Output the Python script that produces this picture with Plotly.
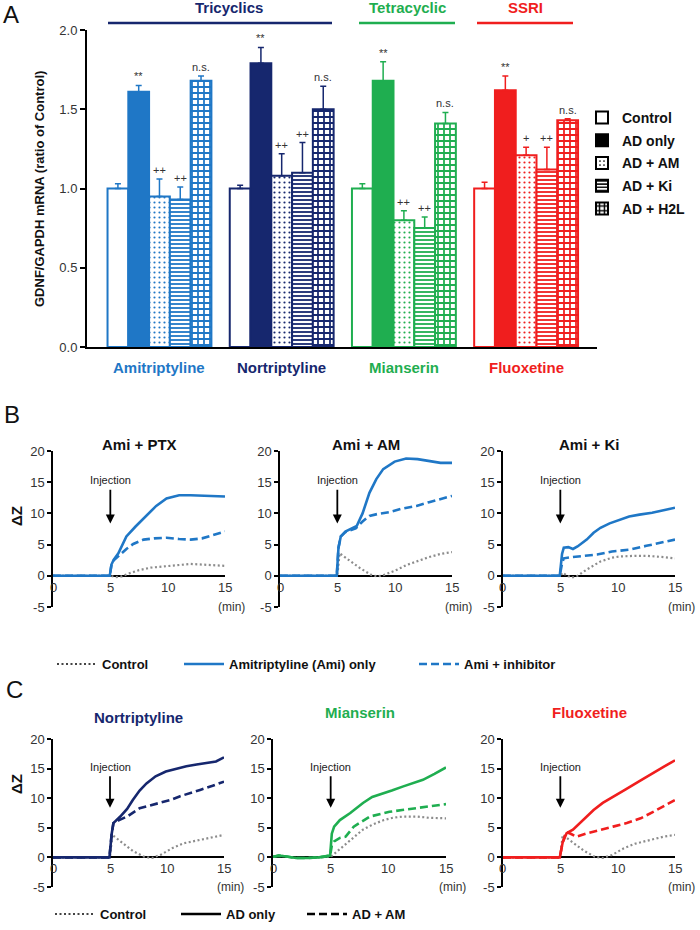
import plotly.graph_objects as go

W, H = 700, 930
FONT = "Liberation Sans, Arial, sans-serif"


def px(x):
    return x / W


def py(y):
    return 1 - y / H


# ---------------- panel A: GDNF/GAPDH mRNA ----------------
drugs = ["Amitriptyline", "Nortriptyline", "Mianserin", "Fluoxetine"]
drug_colors = ["#1f77c6", "#16276e", "#1fae50", "#f01e1e"]
conditions = ["Control", "AD only", "AD + AM", "AD + Ki", "AD + H2L"]

ami_mean = [1.00, 1.61, 0.95, 0.93, 1.68]
ami_err = [0.03, 0.04, 0.11, 0.08, 0.03]
nor_mean = [1.00, 1.79, 1.08, 1.10, 1.50]
nor_err = [0.02, 0.10, 0.14, 0.19, 0.145]
mia_mean = [1.00, 1.68, 0.80, 0.75, 1.41]
mia_err = [0.03, 0.12, 0.06, 0.07, 0.07]
flu_mean = [1.00, 1.62, 1.21, 1.12, 1.43]
flu_err = [0.04, 0.09, 0.05, 0.14, 0.01]

sig_main = ["", "**", "++", "++", "n.s."]
sig_flu = ["", "**", "+", "++", "n.s."]

y_ticks_a = [0, 0.5, 1.0, 1.5, 2.0]

# ---------------- panel B: Ami + inhibitors (delta Z) ----------------
b_titles = ["Ami + PTX", "Ami + AM", "Ami + Ki"]

b1_ctrl_t = [0, 2.5, 5.0, 5.5, 6.0, 6.5, 7.5, 8.5, 10.0, 11.0, 12.0, 13.0, 14.0, 15.0]
b1_ctrl_z = [0, 0, 0, -0.2, -0.1, 0.3, 0.9, 1.3, 1.6, 1.8, 1.9, 1.8, 1.7, 1.6]
b1_ami_t = [0, 2.5, 4.95, 5.1, 5.3, 5.7, 6.4, 7.2, 8.2, 9.0, 9.9, 11.0, 12.0, 13.0, 14.0, 15.0]
b1_ami_z = [0, 0, 0, 1.8, 2.6, 3.6, 6.3, 7.9, 9.7, 11.2, 12.4, 12.9, 12.9, 12.8, 12.7, 12.7]
b1_inh_t = [0, 2.5, 4.95, 5.1, 5.3, 5.8, 6.4, 7.0, 7.9, 8.8, 9.9, 11.0, 12.0, 13.0, 14.0, 15.0]
b1_inh_z = [0, 0, 0, 1.8, 2.5, 3.3, 4.3, 5.1, 5.8, 6.0, 6.1, 5.9, 5.8, 6.0, 6.5, 7.1]

b2_ctrl_t = [0, 2.5, 5.0, 5.2, 6.0, 7.0, 8.0, 8.5, 9.0, 10.0, 11.0, 12.0, 13.0, 14.0, 15.0]
b2_ctrl_z = [0, 0, 0, 3.6, 2.5, 1.2, 0.1, -0.1, 0.1, 0.8, 1.7, 2.4, 3.0, 3.5, 3.8]
b2_ami_t = [0, 2.5, 4.95, 5.1, 5.3, 5.7, 6.2, 6.7, 7.2, 7.8, 8.4, 9.0, 10.0, 11.0, 12.0, 13.0, 14.0, 15.0]
b2_ami_z = [0, 0, 0, 4.5, 6.3, 7.1, 7.5, 8.0, 10.0, 13.3, 15.5, 17.1, 18.3, 18.8, 18.7, 18.4, 18.1, 18.1]
b2_inh_t = [0, 2.5, 4.95, 5.1, 5.3, 5.7, 6.2, 6.6, 7.2, 7.8, 8.5, 9.5, 10.5, 11.9, 13.0, 14.0, 15.0]
b2_inh_z = [0, 0, 0, 4.5, 6.3, 7.0, 7.3, 7.6, 8.7, 9.6, 9.9, 10.2, 10.7, 11.2, 11.8, 12.3, 12.8]

b3_ctrl_t = [0, 2.5, 5.0, 5.2, 5.6, 6.0, 6.5, 7.3, 8.5, 9.5, 10.2, 11.5, 12.5, 14.0, 15.0]
b3_ctrl_z = [0, 0, 0, 0.5, 0.0, -0.3, 0.0, 1.0, 2.3, 2.9, 3.1, 3.2, 3.2, 3.0, 2.8]
b3_ami_t = [0, 2.5, 4.95, 5.15, 5.3, 5.7, 6.1, 6.5, 7.3, 7.9, 8.5, 9.3, 10.2, 11.0, 11.9, 13.0, 14.0, 15.0]
b3_ami_z = [0, 0, 0, 3.5, 4.5, 4.6, 4.3, 4.7, 5.8, 6.9, 7.7, 8.4, 9.0, 9.5, 9.8, 10.1, 10.5, 10.9]
b3_inh_t = [0, 2.5, 4.95, 5.15, 5.3, 6.0, 7.0, 8.2, 9.5, 11.1, 12.5, 13.8, 15.0]
b3_inh_z = [0, 0, 0, 2.0, 2.8, 3.0, 3.2, 3.4, 3.9, 4.2, 4.8, 5.3, 5.8]

# ---------------- panel C: other antidepressants +/- AM ----------------
c_titles = ["Nortriptyline", "Mianserin", "Fluoxetine"]

c1_ctrl_t = [0, 2.5, 5.0, 5.2, 6.0, 7.0, 8.0, 8.7, 9.5, 10.5, 11.5, 12.9, 14.0, 15.0]
c1_ctrl_z = [0, 0, 0, 3.8, 2.6, 1.1, 0.1, -0.1, 0.5, 1.6, 2.4, 3.0, 3.5, 3.8]
c1_ad_t = [0, 2.5, 4.95, 5.15, 5.3, 5.9, 6.5, 7.0, 7.6, 8.2, 9.0, 9.9, 10.8, 11.7, 12.6, 13.5, 14.3, 15.0]
c1_ad_z = [0, 0, 0, 4.0, 5.8, 6.9, 8.2, 9.7, 11.3, 12.5, 13.7, 14.5, 15.0, 15.4, 15.7, 15.9, 16.2, 16.9]
c1_am_t = [0, 2.5, 4.95, 5.15, 5.3, 5.8, 6.5, 7.6, 8.5, 9.4, 10.3, 11.1, 12.0, 12.9, 14.0, 15.0]
c1_am_z = [0, 0, 0, 4.0, 5.8, 6.3, 6.9, 8.3, 8.8, 9.2, 9.7, 10.3, 10.8, 11.4, 12.1, 12.8]

c2_ctrl_t = [0, 0.5, 1.0, 2.0, 3.0, 4.0, 5.0, 6.1, 7.0, 7.8, 8.7, 9.6, 10.4, 11.3, 12.5, 13.5, 15.0]
c2_ctrl_z = [0.1, 0.3, 0.2, -0.1, -0.1, 0.0, 0.1, 1.9, 3.4, 4.7, 5.6, 6.3, 6.7, 6.9, 6.9, 6.7, 6.6]
c2_ad_t = [0, 0.5, 1.0, 2.0, 3.0, 4.0, 4.95, 5.1, 5.3, 5.8, 6.7, 7.8, 8.6, 9.3, 10.3, 11.3, 12.2, 13.0, 14.0, 15.0]
c2_ad_z = [0.1, 0.3, 0.2, -0.1, -0.1, 0.0, 0.3, 4.0, 5.2, 6.3, 7.5, 9.2, 10.2, 10.6, 11.3, 12.0, 12.6, 13.1, 14.1, 15.2]
c2_am_t = [0, 0.5, 1.0, 2.0, 3.0, 4.0, 4.95, 5.1, 5.3, 5.8, 6.3, 7.0, 8.4, 10.1, 11.2, 12.4, 13.5, 15.0]
c2_am_z = [0.1, 0.3, 0.2, -0.1, -0.1, 0.0, 0.3, 2.0, 2.7, 3.3, 3.5, 5.2, 6.9, 7.7, 8.0, 8.3, 8.6, 9.0]

c3_ctrl_t = [0, 2.5, 5.0, 5.2, 6.0, 7.0, 8.0, 8.7, 9.5, 10.5, 11.5, 12.9, 14.0, 15.0]
c3_ctrl_z = [0, 0, 0, 3.8, 2.7, 1.2, 0.1, -0.1, 0.4, 1.5, 2.3, 3.0, 3.5, 3.8]
c3_ad_t = [0, 2.5, 4.95, 5.2, 5.55, 6.1, 6.7, 7.3, 7.9, 8.7, 9.6, 10.7, 11.9, 13.0, 14.0, 15.0]
c3_ad_z = [0, 0, 0, 2.5, 4.1, 4.7, 5.8, 6.9, 8.0, 9.2, 10.3, 11.5, 12.9, 14.2, 15.3, 16.4]
c3_am_t = [0, 2.5, 4.95, 5.2, 5.5, 5.9, 6.4, 7.2, 8.5, 9.6, 10.8, 12.0, 13.1, 14.0, 15.0]
c3_am_z = [0, 0, 0, 2.5, 4.3, 4.0, 3.5, 4.0, 4.7, 5.2, 5.8, 6.6, 7.7, 8.6, 9.7]

x_ticks_bc = [0, 5, 10, 15]
y_ticks_bc = [-5, 0, 5, 10, 15, 20]
y_ticktext_bc = ["-5", "0", "5", "10", "15", "20"]

ami_blue = "#1f77c6"
ctrl_grey = "#8c8c8c"

fig = go.Figure()
annotations = []
shapes = []


def label(x, y, text, size, color="#111", bold=False, angle=0):
    # free text placed in figure pixels
    annotations.append(dict(x=px(x), y=py(y), xref="paper", yref="paper", text=text,
                            xanchor="center", yanchor="middle", showarrow=False, textangle=angle,
                            font=dict(size=size, color=color, weight="bold" if bold else "normal")))


# ---- bars ----
BW = 0.17


def bar_marker(k, col):
    m = dict(line=dict(color=col, width=2))
    if k == 0:
        m["color"] = "white"
    elif k == 1:
        m["color"] = col
    elif k == 2:
        m["color"] = "white"
        m["pattern"] = dict(shape=".", fgcolor=col, bgcolor="white", size=5, solidity=0.15)
    elif k == 3:
        m["color"] = "white"
        m["pattern"] = dict(shape="-", fgcolor=col, bgcolor="white", size=4, solidity=0.45)
    else:
        m["color"] = "white"
        m["pattern"] = dict(shape="+", fgcolor=col, bgcolor="white", size=6, solidity=0.5)
    return m


groups = [(ami_mean, ami_err, sig_main), (nor_mean, nor_err, sig_main),
          (mia_mean, mia_err, sig_main), (flu_mean, flu_err, sig_flu)]

for g, (means, errs, sigs) in enumerate(groups):
    col = drug_colors[g]
    for k in range(len(conditions)):
        xpos = g + (k - 2) * BW
        fig.add_trace(go.Bar(
            x=[xpos], y=[means[k]], width=BW,
            marker=bar_marker(k, col),
            error_y=dict(type="data", array=[errs[k]], arrayminus=[0], symmetric=False,
                         color=col, thickness=1.5, width=3),
            showlegend=False, xaxis="x", yaxis="y",
        ))
        if sigs[k]:
            annotations.append(dict(x=xpos, y=means[k] + errs[k], xref="x", yref="y",
                                    text=sigs[k], showarrow=False, xanchor="center",
                                    yanchor="bottom", yshift=1, font=dict(size=11, color="#333")))
    annotations.append(dict(x=g, y=py(367), xref="x", yref="paper", text=drugs[g],
                            xanchor="center", yanchor="middle", showarrow=False,
                            font=dict(size=15, color=col, weight="bold")))

# legend entries for panel A (black swatches)
for k, name in enumerate(conditions):
    fig.add_trace(go.Bar(x=[None], y=[None], name=name, marker=bar_marker(k, "black"),
                         legend="legend", legendgroup=name, xaxis="x", yaxis="y"))

# ---- line plots ----
b_sets = [
    (b1_ctrl_t, b1_ctrl_z, b1_ami_t, b1_ami_z, b1_inh_t, b1_inh_z),
    (b2_ctrl_t, b2_ctrl_z, b2_ami_t, b2_ami_z, b2_inh_t, b2_inh_z),
    (b3_ctrl_t, b3_ctrl_z, b3_ami_t, b3_ami_z, b3_inh_t, b3_inh_z),
]
c_sets = [
    (c1_ctrl_t, c1_ctrl_z, c1_ad_t, c1_ad_z, c1_am_t, c1_am_z),
    (c2_ctrl_t, c2_ctrl_z, c2_ad_t, c2_ad_z, c2_am_t, c2_am_z),
    (c3_ctrl_t, c3_ctrl_z, c3_ad_t, c3_ad_z, c3_am_t, c3_am_z),
]

# pixel frames of the small plots
b_frames = [(53, 225), (280, 452), (503, 675)]
c_frames = [(53, 224), (273, 446), (503, 675)]
b_y = (451, 607)
c_y = (739, 887)

layout_axes = {}
panels = []
for i in range(3):
    panels.append((b_frames[i], b_y, b_sets[i], ami_blue, b_titles[i], "#111", 444))
for i in range(3):
    tpos = 717 if i == 0 else 712
    panels.append((c_frames[i], c_y, c_sets[i], drug_colors[i + 1], c_titles[i], drug_colors[i + 1], tpos))

for n, (fx, fy, data, col, title, tcol, ty) in enumerate(panels):
    ax = n + 2
    xa, ya = f"x{ax}", f"y{ax}"
    ct, cz, st, sz, dt, dz = data
    fig.add_trace(go.Scatter(x=ct, y=cz, mode="lines", line=dict(color=ctrl_grey, width=2.2, dash="2px,2.5px"),
                             showlegend=False, xaxis=xa, yaxis=ya))
    fig.add_trace(go.Scatter(x=dt, y=dz, mode="lines", line=dict(color=col, width=2.6, dash="8px,4px"),
                             showlegend=False, xaxis=xa, yaxis=ya))
    fig.add_trace(go.Scatter(x=st, y=sz, mode="lines", line=dict(color=col, width=2.6),
                             showlegend=False, xaxis=xa, yaxis=ya))
    layout_axes[f"xaxis{ax}"] = dict(domain=[px(fx[0]), px(fx[1])], range=[0, 15], anchor=ya,
                                     showline=False, showticklabels=False, ticks="",
                                     showgrid=False, zeroline=False)
    layout_axes[f"yaxis{ax}"] = dict(domain=[py(fy[1]), py(fy[0])], range=[-5, 20], anchor=xa,
                                     tickvals=y_ticks_bc, ticktext=y_ticktext_bc,
                                     showline=True, linecolor="black", linewidth=1.5,
                                     ticks="outside", ticklen=4, tickwidth=1.5, tickcolor="black",
                                     showgrid=False, zeroline=True, zerolinecolor="black",
                                     zerolinewidth=1.5, tickfont=dict(size=13, color="#333"))
    for v in x_ticks_bc:
        annotations.append(dict(x=v, y=0, xref=xa, yref=ya, text=str(v), showarrow=False,
                                xanchor="center", yanchor="top", yshift=-2,
                                font=dict(size=13, color="#333")))
    annotations.append(dict(x=15, y=-5, xref=xa, yref=ya, text="(min)", showarrow=False,
                            xanchor="center", yanchor="middle", xshift=6,
                            font=dict(size=12, color="#333")))
    annotations.append(dict(x=5, y=8.4, xref=xa, yref=ya, ax=5, ay=15.3, axref=xa, ayref=ya,
                            text="Injection", showarrow=True, arrowhead=2, arrowsize=1,
                            arrowwidth=1.8, arrowcolor="black", startstandoff=2,
                            font=dict(size=11, color="#222")))
    label((fx[0] + fx[1]) / 2, ty, title, 15, tcol, bold=True)
    if n % 3 == 0:
        label(16, 516 if n == 0 else 784, "ΔZ", 15, bold=True, angle=-90)

# legend entries for B and C
fig.add_trace(go.Scatter(x=[None], y=[None], mode="lines", name="Control", legend="legend2",
                         line=dict(color="#444", width=2, dash="2px,2.5px"), xaxis="x2", yaxis="y2"))
fig.add_trace(go.Scatter(x=[None], y=[None], mode="lines", name="Amitriptyline (Ami) only", legend="legend5",
                         line=dict(color=ami_blue, width=2.6), xaxis="x2", yaxis="y2"))
fig.add_trace(go.Scatter(x=[None], y=[None], mode="lines", name="Ami + inhibitor", legend="legend4",
                         line=dict(color=ami_blue, width=2.6, dash="8px,4px"), xaxis="x2", yaxis="y2"))
fig.add_trace(go.Scatter(x=[None], y=[None], mode="lines", name="Control", legend="legend3",
                         line=dict(color="#444", width=2, dash="2px,2.5px"), xaxis="x5", yaxis="y5"))
fig.add_trace(go.Scatter(x=[None], y=[None], mode="lines", name="AD only", legend="legend3",
                         line=dict(color="black", width=2.6), xaxis="x5", yaxis="y5"))
fig.add_trace(go.Scatter(x=[None], y=[None], mode="lines", name="AD + AM", legend="legend3",
                         line=dict(color="black", width=2.6, dash="8px,4px"), xaxis="x5", yaxis="y5"))

# ---- group headers and panel letters ----
headers = [("Tricyclics", drug_colors[1], 229, 108, 332),
           ("Tetracyclic", drug_colors[2], 407, 359, 455),
           ("SSRI", drug_colors[3], 525, 477, 573)]
for text, col, cx, l0, l1 in headers:
    label(cx, 8, text, 15, col, bold=True)
    shapes.append(dict(type="line", xref="paper", yref="paper", x0=px(l0), x1=px(l1),
                       y0=py(23), y1=py(23), line=dict(color=col, width=2.5)))

label(11, 15, "A", 24)
label(12, 414, "B", 24)
label(14, 689, "C", 24)
label(39, 189, "GDNF/GAPDH mRNA (ratio of Control)", 13, bold=True, angle=-90)

leg_font = dict(size=13, color="#111", weight="bold")
line_leg = dict(orientation="h", yanchor="middle", xanchor="left", itemwidth=40,
                font=leg_font, bgcolor="rgba(0,0,0,0)")
fig.update_layout(
    template="none",
    width=W, height=H,
    margin=dict(l=0, r=0, t=0, b=0, autoexpand=False),
    paper_bgcolor="white", plot_bgcolor="white",
    font=dict(family=FONT, color="#111"),
    barmode="overlay",
    xaxis=dict(domain=[px(87), px(597)], range=[-0.593, 3.58], showline=True, linecolor="black",
               linewidth=2, showticklabels=False, ticks="", showgrid=False, zeroline=False),
    yaxis=dict(domain=[py(347), py(30)], range=[0, 2.0], tickvals=y_ticks_a, tickformat=".1f",
               showline=True, linecolor="black", linewidth=2, ticks="outside", ticklen=5,
               tickwidth=2, tickcolor="black", showgrid=False, zeroline=False,
               tickfont=dict(size=13, color="#333")),
    legend=dict(x=px(582), y=py(102), xanchor="left", yanchor="top", tracegroupgap=1.5,
                traceorder="grouped", font=dict(size=14, color="#111", weight="bold"),
                bgcolor="rgba(0,0,0,0)"),
    legend2=dict(line_leg, x=px(52), y=py(664)),
    legend5=dict(line_leg, x=px(179), y=py(664)),
    legend4=dict(line_leg, x=px(414), y=py(664)),
    legend3=dict(line_leg, x=px(50), y=py(914), entrywidth=71),
    annotations=annotations,
    shapes=shapes,
    **layout_axes,
)

# the page's default body margin would push the figure 8px off the window
fig.write_html("out.html", config={"displayModeBar": False},
               post_script="document.body.style.margin='0';")
